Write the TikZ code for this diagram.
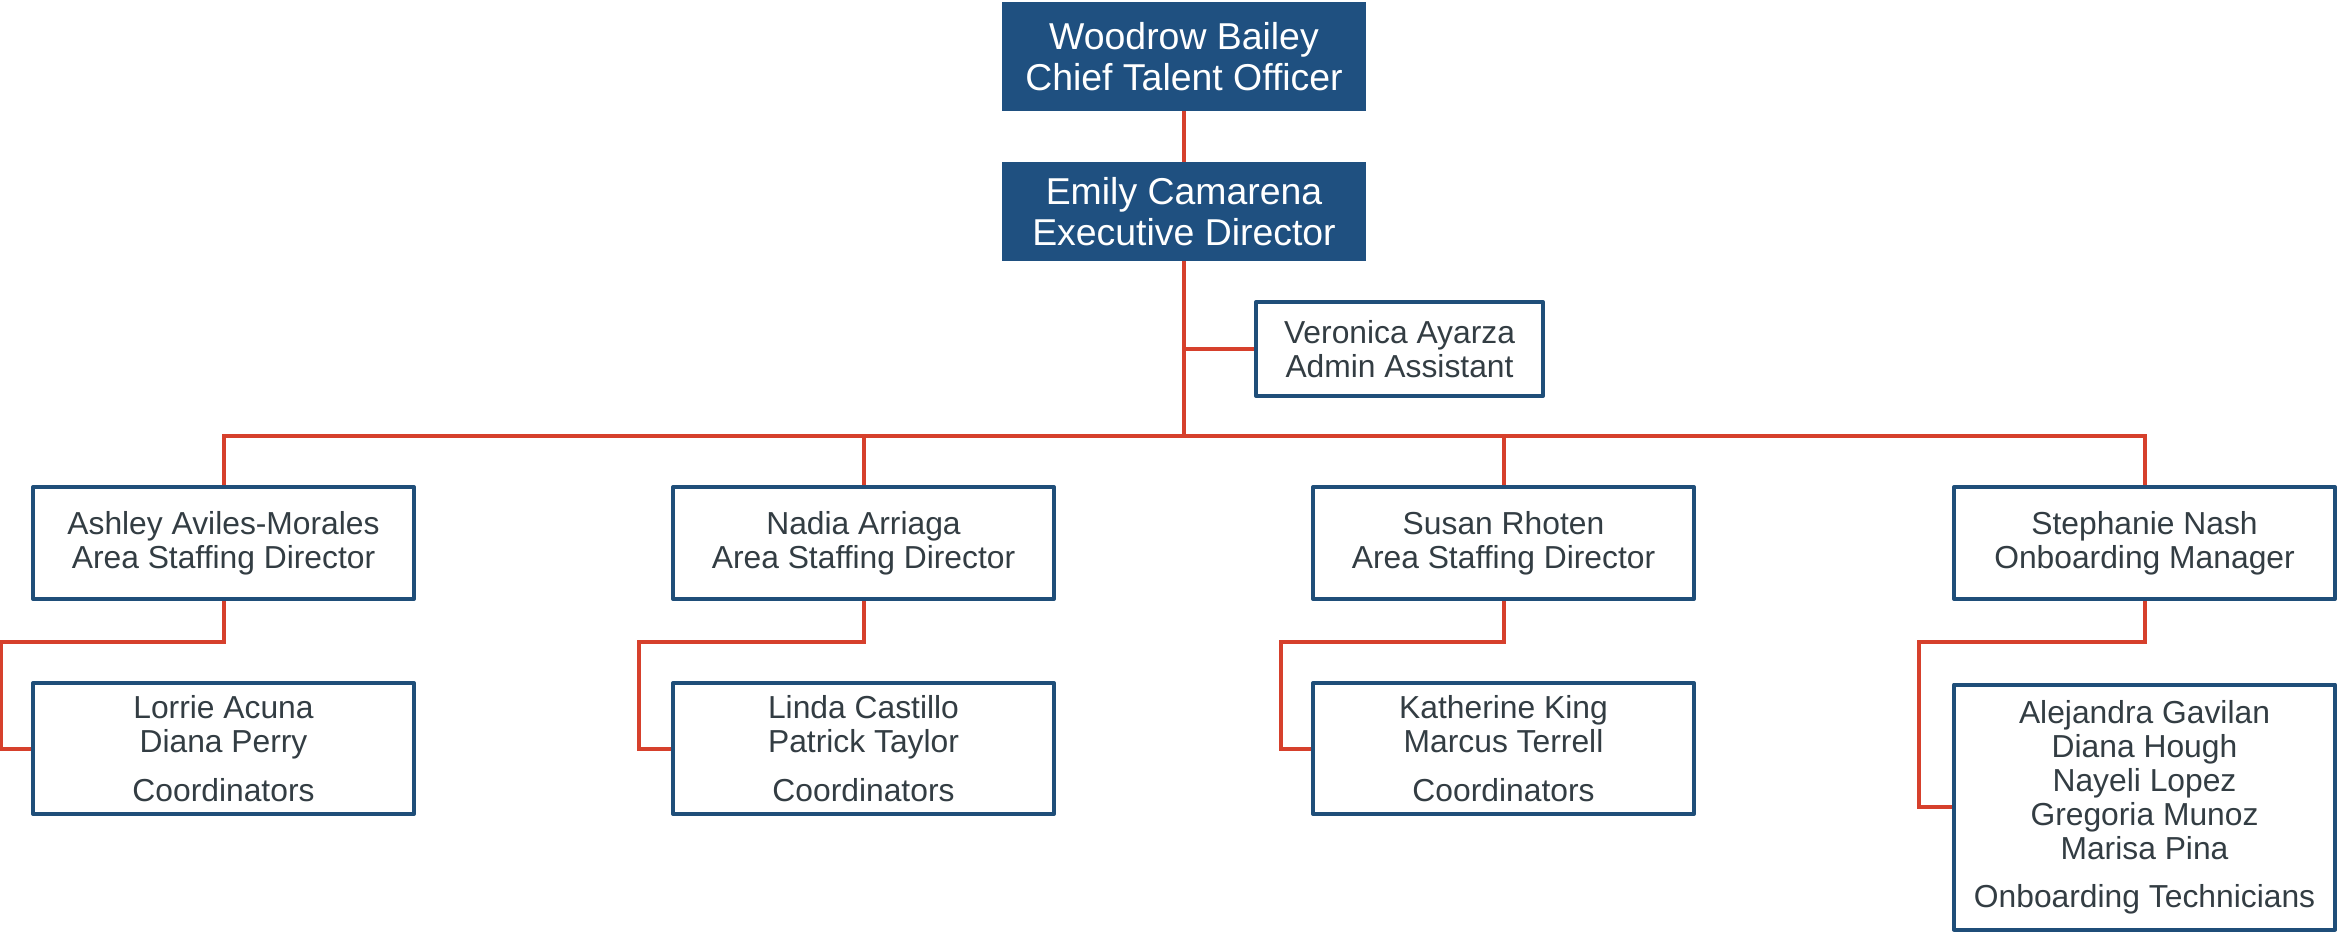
\documentclass[tikz,border=0pt]{standalone}
\usepackage{fontspec}
\setmainfont{Liberation Sans}
\usetikzlibrary{calc}
\definecolor{boxblue}{RGB}{31,80,128}
\definecolor{lineblue}{RGB}{31,78,121}
\definecolor{connred}{RGB}{214,64,44}
\definecolor{txtgray}{RGB}{51,61,67}
\begin{document}
\begin{tikzpicture}[x=0.5pt,y=-0.5pt,
 filledbox/.style={rectangle, fill=boxblue, draw=boxblue, line width=0.5pt, text=white, align=center, font=\fontsize{18.7}{20.3}\selectfont, inner sep=0pt},
 plainbox/.style={rectangle, draw=lineblue, line width=2pt, line join=round, fill=white, text=txtgray, align=center, font=\fontsize{15.9}{17}\selectfont, inner sep=0pt},
 lvltwo/.style={plainbox, minimum width=190.5pt, minimum height=56pt},
 coordbox/.style={plainbox, minimum width=190.5pt, minimum height=65.5pt},
 conn/.style={draw=connred, line width=2pt}]
\useasboundingbox (0,0) rectangle (2339,933);

\node[filledbox, minimum width=181.5pt, minimum height=54pt] (wood) at (1184,56.5) {Woodrow Bailey\\Chief Talent Officer};
\node[filledbox, minimum width=181.5pt, minimum height=49pt] (emily) at (1184,211.5) {Emily Camarena\\Executive Director};
\node[plainbox, minimum width=143.5pt, minimum height=47pt] (ver) at (1399.5,349) {Veronica Ayarza\\Admin Assistant};

\node[lvltwo] (ash) at (223.5,543) {Ashley Aviles-Morales\\Area Staffing Director};
\node[lvltwo] (nadia) at (863.5,543) {Nadia Arriaga\\Area Staffing Director};
\node[lvltwo] (susan) at (1503.5,543) {Susan Rhoten\\Area Staffing Director};
\node[lvltwo] (steph) at (2144.5,543) {Stephanie Nash\\Onboarding Manager};

\node[coordbox] (ashc) at (223.5,748.5) {Lorrie Acuna\\Diana Perry\\[7.3pt]Coordinators};
\node[coordbox] (nadiac) at (863.5,748.5) {Linda Castillo\\Patrick Taylor\\[7.3pt]Coordinators};
\node[coordbox] (susanc) at (1503.5,748.5) {Katherine King\\Marcus Terrell\\[7.3pt]Coordinators};
\node[plainbox, minimum width=190.5pt, minimum height=122.5pt] (stephc) at (2144.5,807) {Alejandra Gavilan\\Diana Hough\\Nayeli Lopez\\Gregoria Munoz\\Marisa Pina\\[7pt]Onboarding Technicians};

\coordinate (bus) at (1184,436);
\draw[conn] (wood.south) -- (emily.north);
\draw[conn] (emily.south) -- (bus);
\draw[conn] (ver.west) -- (ver.west -| emily.south);
\draw[conn] (ash.north) |- (bus) -| (steph.north);
\draw[conn] (nadia.north) -- (nadia.north |- bus);
\draw[conn] (susan.north) -- (susan.north |- bus);

\draw[conn] (ash.south) -- ++(0,41) -| ($(ashc.west)+(-30,0)$) -- (ashc.west);
\draw[conn] (nadia.south) -- ++(0,41) -| ($(nadiac.west)+(-32,0)$) -- (nadiac.west);
\draw[conn] (susan.south) -- ++(0,41) -| ($(susanc.west)+(-30,0)$) -- (susanc.west);
\draw[conn] (steph.south) -- ++(0,41) -| ($(stephc.west)+(-33,0)$) -- (stephc.west);
\end{tikzpicture}
\end{document}
